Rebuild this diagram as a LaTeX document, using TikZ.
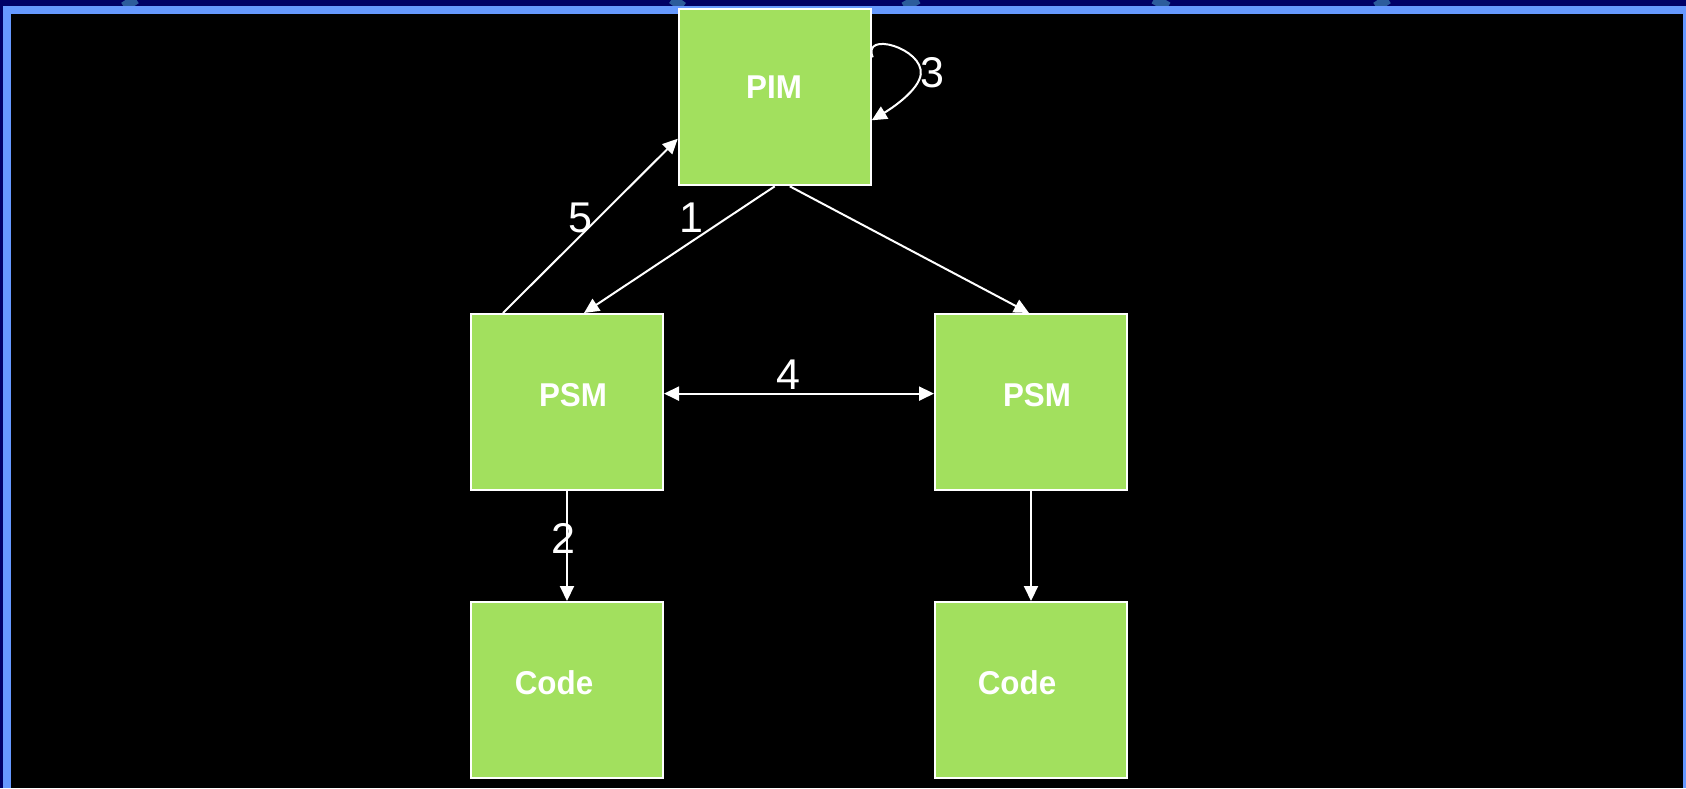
\documentclass[tikz,border=0pt]{standalone}
\usepackage{fontspec}
\setmainfont{Liberation Sans}
\usetikzlibrary{arrows.meta,calc}
\definecolor{navy}{HTML}{000066}
\definecolor{frameblue}{HTML}{6699FF}
\definecolor{boxgreen}{HTML}{A2E05E}
\definecolor{arcblue}{HTML}{2C5C9C}
\begin{document}
\begin{tikzpicture}[x=1pt,y=-1pt,
  box/.style={draw=white,line width=2pt,fill=boxgreen,minimum width=192pt,minimum height=176pt,inner sep=0pt},
  boxtext/.style={text=white,font=\fontsize{33}{38}\selectfont\bfseries,inner sep=0pt,xscale=0.95},
  num/.style={text=white,font=\fontsize{43}{48}\selectfont,inner sep=0pt},
  arr/.style={draw=white,line width=2pt,-{Triangle[length=15pt,width=14pt]}},
  dblarr/.style={draw=white,line width=2pt,{Triangle[length=15pt,width=14pt]}-{Triangle[length=15pt,width=14pt]}},
  deco/.style={draw=arcblue,line width=10pt}]
\useasboundingbox (0,0) rectangle (1686,788);
\fill[navy] (0,0) rectangle (1686,788);
\draw[deco] (124,7) -- (136,-1);
\draw[deco] (672,-1) -- (683,7);
\draw[deco] (904,7) -- (918,-1);
\draw[deco] (1154,-1) -- (1168,7);
\draw[deco] (1376,7) -- (1388,-1);
\fill[frameblue] (3,6) rectangle (1686,788);
\fill[black] (11,14) rectangle (1683,788);

\node[box] (PIM) at (774.75,97.3) {};
\node[box] (PSML) at (567,402) {};
\node[box] (PSMR) at (1031,402) {};
\node[box] (CodeL) at (567,690) {};
\node[box] (CodeR) at (1031,690) {};

\node[boxtext] (tPIM) at (774,87) {PIM};
\node[boxtext] (tPSML) at (573,395) {PSM};
\node[boxtext] (tPSMR) at (1037,395) {PSM};
\node[boxtext] (tCodeL) at (554,683) {Code};
\node[boxtext] (tCodeR) at (1017,683) {Code};

\draw[arr] (PIM.south) -- ($(PSML.north)+(17,0)$);
\draw[arr] ($(PIM.south)+(15,0)$) -- ($(PSMR.north)+(-2,0)$);
\draw[arr] ($(PSML.north)+(-64,0)$) -- ($(PIM.west)+(0,41.4)$);
\draw[dblarr] ($(PSML.east)+(0,-8.4)$) -- ($(PSMR.west)+(0,-8.4)$);
\draw[arr] (PSML.south) -- (CodeL.north);
\draw[arr] (PSMR.south) -- (CodeR.north);
\draw[arr] ($(PIM.north east)+(1,49)$) .. controls ($(PIM.north east)+(-10,22)$) and ($(PIM.north east)+(52,40)$) .. ($(PIM.north east)+(49,66)$) .. controls ($(PIM.north east)+(47,82)$) and ($(PIM.north east)+(20,100)$) .. ($(PIM.north east)+(0,112)$);

\node[num] (n1) at (691,218) {1};
\node[num] (n2) at (563.5,538) {2};
\node[num] (n3) at (932,73) {3};
\node[num] (n4) at (788,375) {4};
\node[num] (n5) at (580,218) {5};
\end{tikzpicture}
\end{document}
